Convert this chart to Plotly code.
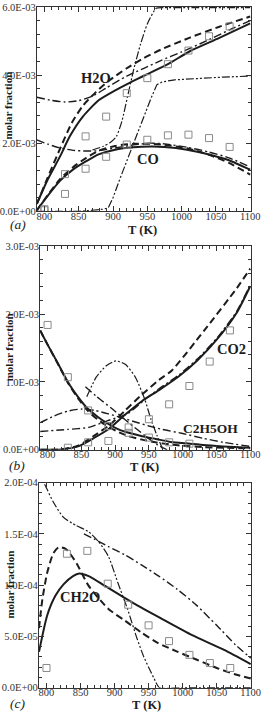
import plotly.graph_objects as go

W, H = 271, 718

# ---------------- Panel (a): H2O and CO, values in units of 1E-03 ----------------
A_SCALE = 1e-3
a_exp_T = [800, 830, 860, 890, 920, 950, 980, 1010, 1040, 1070]
a_exp_h2o = [0.06, 1.09, 2.2, 2.78, 3.47, 3.91, 4.32, 4.72, 5.14, 5.43]
a_exp_co = [0.03, 0.51, 1.25, 1.6, 1.96, 2.1, 2.23, 2.25, 2.15, 1.89]

a_h2o_solid_T = [789, 805, 823, 837, 856, 879, 903, 926, 945, 980, 1012, 1055, 1100]
a_h2o_solid = [0.22, 0.94, 1.62, 2.2, 2.78, 3.26, 3.55, 3.79, 3.98, 4.32, 4.70, 5.09, 5.52]
a_h2o_dash_T = [789, 805, 823, 840, 856, 875, 895, 920, 945, 970, 1012, 1055, 1100]
a_h2o_dash = [0.22, 1.0, 1.85, 2.6, 3.1, 3.5, 3.85, 4.2, 4.5, 4.75, 5.1, 5.42, 5.72]
a_h2o_dd_T = [789, 810, 830, 850, 870, 890, 920, 945, 968, 1000, 1038, 1070, 1100]
a_h2o_dd = [3.35, 3.26, 3.21, 3.25, 3.38, 3.62, 3.97, 4.2, 4.41, 4.68, 5.02, 5.33, 5.6]
a_h2o_ddd_T = [870, 886, 896, 905, 913, 921, 930, 940, 950, 963, 975, 1040, 1100]
a_h2o_ddd = [1.8, 1.91, 2.02, 2.2, 2.65, 3.35, 4.15, 4.9, 5.5, 5.96, 5.98, 5.98, 5.98]

a_co_T = [789, 805, 823, 842, 861, 879, 903, 930, 955, 975, 1008, 1040, 1069, 1100]
a_co_solid = [0.03, 0.46, 0.9, 1.23, 1.47, 1.67, 1.81, 1.88, 1.9, 1.89, 1.81, 1.67, 1.5, 1.22]
a_co_dash = [0.03, 0.48, 0.95, 1.3, 1.57, 1.78, 1.92, 1.98, 1.98, 1.95, 1.85, 1.66, 1.42, 1.08]
a_co_dd = [2.1, 1.97, 1.86, 1.79, 1.77, 1.78, 1.86, 1.95, 2.0, 1.98, 1.88, 1.74, 1.57, 1.3]
a_co_ddd_T = [789, 850, 870, 885, 893, 900, 910, 925, 940, 955, 964, 972, 990, 1020, 1060, 1100]
a_co_ddd = [0.0, 0.0, 0.03, 0.06, 0.1, 0.4, 0.95, 1.75, 2.55, 3.3, 3.72, 3.8, 3.86, 3.9, 3.94, 3.97]

a_yticks = [0, 2, 4, 6]
a_yticktext = ["0.0E+00", "2.0E-03", "4.0E-03", "6.0E-03"]

# ---------------- Panel (b): CO2 and C2H5OH, values in units of 1E-03 ----------------
B_SCALE = 1e-3
b_exp_eth_T = [800, 830, 860, 890, 920, 950, 980, 1010]
b_exp_eth = [1.84, 1.07, 0.58, 0.35, 0.33, 0.18, 0.11, 0.09]
b_exp_co2_T = [830, 860, 890, 920, 950, 980, 1010, 1040, 1070]
b_exp_co2 = [0.03, 0.11, 0.13, 0.25, 0.45, 0.67, 0.94, 1.3, 1.76]

b_eth_T = [789, 800, 815, 830, 845, 860, 875, 890, 905, 920, 940, 960, 980, 1000, 1030, 1060, 1100]
b_eth_solid = [1.76, 1.55, 1.28, 1.0, 0.78, 0.6, 0.48, 0.38, 0.3, 0.25, 0.2, 0.16, 0.12, 0.1, 0.07, 0.05, 0.03]
b_eth_dash = [1.76, 1.55, 1.27, 0.99, 0.76, 0.57, 0.44, 0.34, 0.26, 0.2, 0.15, 0.11, 0.08, 0.06, 0.04, 0.03, 0.02]
b_eth_dd_T = [856, 872, 896, 920, 944, 963, 977]
b_eth_dd = [0.93, 0.79, 0.6, 0.4, 0.21, 0.07, 0.0]
b_eth_ddd_T = [858, 872, 887, 901, 915, 930, 944, 953, 962, 970]
b_eth_ddd = [0.78, 1.07, 1.24, 1.31, 1.26, 1.07, 0.74, 0.45, 0.21, 0.02]
b_hump_T = [789, 810, 830, 850, 870, 890, 910, 930, 950, 970, 1000, 1030, 1060, 1100]
b_hump = [0.4, 0.5, 0.57, 0.6, 0.58, 0.53, 0.47, 0.41, 0.35, 0.3, 0.24, 0.17, 0.11, 0.05]

b_co2_solid_T = [789, 820, 845, 868, 891, 915, 940, 965, 994, 1022, 1051, 1080, 1100]
b_co2_solid = [0.0, 0.005, 0.05, 0.17, 0.31, 0.52, 0.72, 0.88, 1.08, 1.32, 1.63, 2.02, 2.41]
b_co2_dash_T = [789, 820, 845, 868, 891, 915, 937, 965, 984, 1032, 1080, 1100]
b_co2_dash = [0.0, 0.005, 0.06, 0.2, 0.36, 0.58, 0.79, 1.03, 1.17, 1.76, 2.38, 2.67]
b_co2_dd_T = [789, 830, 861, 889, 918, 944, 965, 994, 1022, 1051, 1080, 1100]
b_co2_dd = [0.27, 0.3, 0.33, 0.43, 0.53, 0.74, 0.9, 1.1, 1.34, 1.65, 2.04, 2.43]

b_yticks = [0, 1, 2, 3]
b_yticktext = ["0.0E+00", "1.0E-03", "2.0E-03", "3.0E-03"]

# ---------------- Panel (c): CH2O, values in units of 1E-05 ----------------
C_SCALE = 1e-5
c_exp_T = [800, 830, 860, 890, 920, 950, 980, 1010, 1040, 1070]
c_exp = [1.92, 13.06, 13.34, 10.14, 8.09, 6.08, 4.54, 3.2, 2.4, 1.92]

c_solid_T = [789, 801, 813, 825, 839, 848, 862, 886, 910, 934, 967, 1014, 1061, 1100]
c_solid = [3.5, 7.04, 8.96, 10.08, 10.88, 11.14, 10.88, 9.92, 8.96, 8.0, 6.8, 5.12, 3.68, 2.3]
c_dash_T = [789, 791, 794, 801, 810, 818, 829, 844, 862, 891, 915, 940, 964, 992, 1021, 1050, 1078, 1100]
c_dash = [5.8, 7.0, 8.64, 11.2, 13.1, 13.7, 13.5, 12.15, 9.92, 7.68, 6.55, 5.35, 4.35, 3.52, 2.72, 1.92, 1.28, 0.9]
c_dd_T = [855, 870, 891, 915, 940, 965, 992, 1021, 1050, 1078, 1100]
c_dd = [15.0, 14.5, 13.76, 12.96, 11.95, 10.88, 9.6, 8.0, 6.08, 4.16, 2.88]
c_ddd_T = [789, 796, 799, 810, 825, 844, 862, 877, 891, 905, 919, 933, 943, 950, 958, 966, 1000, 1100]
c_ddd = [21.5, 20.0, 19.6, 18.1, 16.6, 15.8, 15.2, 14.2, 12.8, 10.2, 7.68, 4.8, 3.0, 2.0, 0.9, 0.0, 0.0, 0.0]

c_yticks = [0, 5, 10, 15, 20]
c_yticktext = ["0.0E+00", "5.0E-05", "1.0E-04", "1.5E-04", "2.0E-04"]

x_ticks = [800, 850, 900, 950, 1000, 1050, 1100]
x_ticktext = ["800", "850", "900", "950", "1000", "1050", "1100"]

# ---------------- styles ----------------
INK = "#1c1c1c"
STY = {
    "solid": dict(dash="solid", width=2.0),
    "dash": dict(dash="7px,4px", width=2.0),
    "dashdot": dict(dash="8px,3px,2px,3px", width=1.4),
    "dashdotdot": dict(dash="8px,2px,2px,2px,2px,2px", width=1.2),
}
SERIF = "Liberation Serif, Times New Roman, serif"

fig = go.Figure()


def add_line(T, V, scale, ax, style, shape="spline"):
    fig.add_trace(go.Scatter(
        x=T, y=[v * scale for v in V], mode="lines",
        xaxis="x" + ax, yaxis="y" + ax, showlegend=False,
        line=dict(color=INK, shape=shape, smoothing=0.6, **STY[style]),
        hoverinfo="skip"))


def add_pts(T, V, scale, ax):
    fig.add_trace(go.Scatter(
        x=T, y=[v * scale for v in V], mode="markers",
        xaxis="x" + ax, yaxis="y" + ax, showlegend=False,
        marker=dict(symbol="square-open", size=7, color="#8a8a8a",
                    line=dict(width=1, color="#8a8a8a"))))


# panel a  (axis suffix "")
add_line(a_h2o_solid_T, a_h2o_solid, A_SCALE, "", "solid")
add_line(a_h2o_dash_T, a_h2o_dash, A_SCALE, "", "dash")
add_line(a_h2o_dd_T, a_h2o_dd, A_SCALE, "", "dashdot")
add_line(a_h2o_ddd_T, a_h2o_ddd, A_SCALE, "", "dashdotdot")
add_line(a_co_T, a_co_solid, A_SCALE, "", "solid")
add_line(a_co_T, a_co_dash, A_SCALE, "", "dash")
add_line(a_co_T, a_co_dd, A_SCALE, "", "dashdot")
add_line(a_co_ddd_T, a_co_ddd, A_SCALE, "", "dashdotdot", shape="linear")
add_pts(a_exp_T, a_exp_h2o, A_SCALE, "")
add_pts(a_exp_T, a_exp_co, A_SCALE, "")

# panel b
add_line(b_eth_T, b_eth_solid, B_SCALE, "2", "solid")
add_line(b_eth_T, b_eth_dash, B_SCALE, "2", "dash")
add_line(b_eth_dd_T, b_eth_dd, B_SCALE, "2", "dashdot")
add_line(b_eth_ddd_T, b_eth_ddd, B_SCALE, "2", "dashdotdot")
add_line(b_hump_T, b_hump, B_SCALE, "2", "dashdot")
add_line(b_co2_solid_T, b_co2_solid, B_SCALE, "2", "solid")
add_line(b_co2_dash_T, b_co2_dash, B_SCALE, "2", "dash")
add_line(b_co2_dd_T, b_co2_dd, B_SCALE, "2", "dashdot")
add_pts(b_exp_eth_T, b_exp_eth, B_SCALE, "2")
add_pts(b_exp_co2_T, b_exp_co2, B_SCALE, "2")

# panel c
add_line(c_solid_T, c_solid, C_SCALE, "3", "solid")
add_line(c_dash_T, c_dash, C_SCALE, "3", "dash")
add_line(c_dd_T, c_dd, C_SCALE, "3", "dashdot")
add_line(c_ddd_T, c_ddd, C_SCALE, "3", "dashdotdot")
add_pts(c_exp_T, c_exp, C_SCALE, "3")


def xaxis(domain, anchor):
    return dict(domain=domain, anchor=anchor, range=[789, 1101],
                tickmode="array", tickvals=x_ticks, ticktext=x_ticktext,
                ticks="inside", ticklen=5, tickwidth=1, tickcolor="#333",
                ticklabelstandoff=-5,
                minor=dict(tick0=800, dtick=10, ticks="inside", ticklen=3,
                           tickcolor="#333", showgrid=False),
                showline=True, linecolor="#333", linewidth=1.2, mirror="allticks",
                showgrid=False, zeroline=False,
                tickfont=dict(family=SERIF, size=10.5, color="#333"))


def yaxis(domain, anchor, vals, text, scale, top, minor_step):
    return dict(domain=domain, anchor=anchor, range=[0, top * scale],
                tickmode="array", tickvals=[v * scale for v in vals], ticktext=text,
                ticks="inside", ticklen=5, tickwidth=1, tickcolor="#333",
                ticklabelstandoff=-2,
                minor=dict(tick0=0, dtick=minor_step * scale, ticks="inside", ticklen=3,
                           tickcolor="#333", showgrid=False),
                showline=True, linecolor="#333", linewidth=1.2, mirror="allticks",
                showgrid=False, zeroline=False,
                tickfont=dict(family=SERIF, size=10.5, color="#333"))


def px(x, y):
    return x / W, 1 - y / H


xa = [38.3 / W, 260.5 / W]
xb = [41.7 / W, 260.5 / W]
xc = [40.5 / W, 261.0 / W]
ya = [1 - 209.5 / H, 1 - 2 / H]
yb = [1 - 451.7 / H, 1 - 245 / H]
yc = [1 - 693.3 / H, 1 - 485 / H]

annotations = []


def note(text, x, y, size, bold=True, italic=False, angle=0):
    ax_, ay_ = px(x, y)
    if italic:
        text = "<i>" + text + "</i>"
    annotations.append(dict(
        text=text, x=ax_, y=ay_, xref="paper", yref="paper", showarrow=False,
        xanchor="center", yanchor="middle", textangle=angle,
        font=dict(family=SERIF, size=size, color=INK,
                  weight="bold" if bold else "normal")))


for (x, y) in [(148, 228.5), (150, 469.5), (151.7, 710.5)]:
    note("T (K)", x, y, 12.5)
for (lab, x, y) in [("(a)", 18.3, 223), ("(b)", 17.5, 467.5), ("(c)", 18.3, 709)]:
    note(lab, x, y, 13.5, bold=False, italic=True)
for (x, y) in [(8.5, 102), (9, 348), (10, 589)]:
    note("molar fraction", x, y, 11, angle=-90)
note("H2O", 100, 74, 14.5)
note("CO", 153.3, 156, 14.5)
note("CO2", 240, 349.3, 14.5)
note("C2H5OH", 218.3, 430, 13.5)
note("CH2O", 83.3, 601.7, 14.5)

fig.update_layout(
    width=W, height=H, margin=dict(l=0, r=0, t=0, b=0),
    paper_bgcolor="white", plot_bgcolor="white", showlegend=False,
    xaxis=xaxis(xa, "y"), yaxis=yaxis(ya, "x", a_yticks, a_yticktext, A_SCALE, 6, 0.4),
    xaxis2=xaxis(xb, "y2"), yaxis2=yaxis(yb, "x2", b_yticks, b_yticktext, B_SCALE, 3, 0.2),
    xaxis3=xaxis(xc, "y3"), yaxis3=yaxis(yc, "x3", c_yticks, c_yticktext, C_SCALE, 20, 1),
    annotations=annotations,
)

fig.write_html("out.html")
